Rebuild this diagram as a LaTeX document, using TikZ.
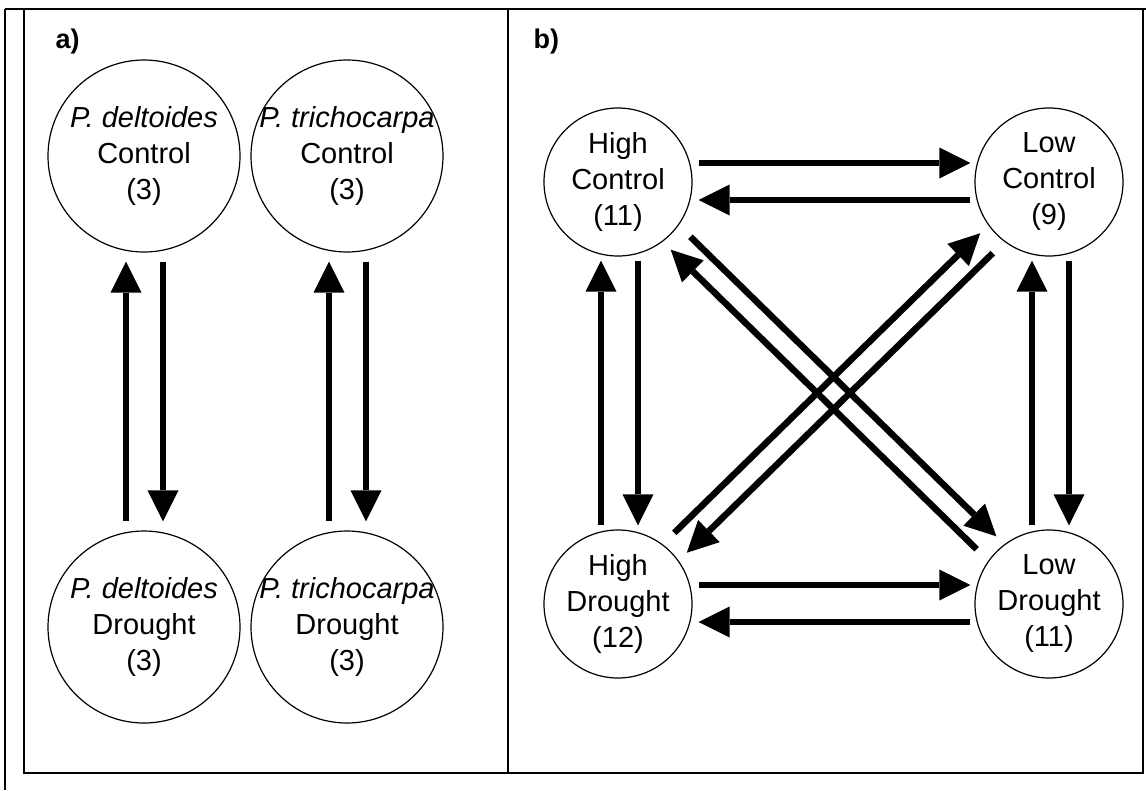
\documentclass[tikz,border=0pt]{standalone}
\usepackage{fontspec}
\setmainfont{Liberation Sans}
\usetikzlibrary{arrows.meta,calc}

\begin{document}
\begin{tikzpicture}[x=1pt,y=-1pt]
        \tikzset{grp/.style={draw,circle,line width=1.2pt,inner sep=0pt},
            big/.style={grp,minimum size=192pt},
            small/.style={grp,minimum size=148pt},
            txt/.style={align=center,font=\fontsize{29}{36}\selectfont},
            flow/.style={line width=6.5pt,
                -{Triangle[width=31pt,length=31pt,line width=0pt]}},
            frame/.style={line width=1.3pt},
            panel/.style={anchor=west,font=\fontsize{27}{30}\selectfont\bfseries}}
        \useasboundingbox (0,0) rectangle (1146,790);
        % frame
        \draw[frame] (24,9) rectangle (1143,773);
        \draw[frame] (508,9) -- (508,773);
        \draw[frame] (5,9) -- (5,790);
        \draw[line width=2.5pt] (5,9) -- (1146,9);
        \node[panel] (la) at (52,42) {a)};
        \node[panel] (lb) at (530,42) {b)};
        % a) species
        \node[big,label={[txt]center:{\textit{P. deltoides}\\Control\\(3)}}] (pdc) at (144,156) {};
        \node[big,label={[txt]center:{\textit{P. trichocarpa}\\Control\\(3)}}] (ptc) at (347,156) {};
        \node[big,label={[txt]center:{\textit{P. deltoides}\\Drought\\(3)}}] (pdd) at (144,627) {};
        \node[big,label={[txt]center:{\textit{P. trichocarpa}\\Drought\\(3)}}] (ptd) at (347,627) {};
        \foreach \a/\b in {pdc/pdd,ptc/ptd}{
            \draw[flow,shorten <=9pt,shorten >=9pt] ([xshift=-18pt]\b.north) -- ([xshift=-18pt]\a.south);
            \draw[flow,shorten <=9pt,shorten >=9pt] ([xshift=19pt]\a.south) -- ([xshift=19pt]\b.north);
        }
        % b) populations
        \node[small,label={[txt]center:{High\\Control\\(11)}}] (hc) at (618,182) {};
        \node[small,label={[txt]center:{Low\\Control\\(9)}}] (lc) at (1049,182) {};
        \node[small,label={[txt]center:{High\\Drought\\(12)}}] (hd) at (618,604) {};
        \node[small,label={[txt]center:{Low\\Drought\\(11)}}] (ld) at (1049,604) {};
        \foreach \a/\b in {hc/lc,hd/ld}{
            \draw[flow,shorten <=6pt,shorten >=4pt] ([yshift=19pt]\a.east) -- ([yshift=19pt]\b.west);
            \draw[flow,shorten <=4pt,shorten >=6pt] ([yshift=-18pt]\b.west) -- ([yshift=-18pt]\a.east);
        }
        \foreach \a/\b in {hc/hd,lc/ld}{
            \draw[flow,shorten <=4pt,shorten >=4pt] ([xshift=-17pt]\b.north) -- ([xshift=-17pt]\a.south);
            \draw[flow,shorten <=4pt,shorten >=4pt] ([xshift=20pt]\a.south) -- ([xshift=20pt]\b.north);
        }
        \foreach \a/\b in {hc/ld,ld/hc,hd/lc,lc/hd}{
            \draw[flow,shorten <=90pt,shorten >=85pt] ($(\a)!11.5pt!90:(\b)$) -- ($(\b)!11.5pt!-90:(\a)$);
        }
\end{tikzpicture}
\end{document}
